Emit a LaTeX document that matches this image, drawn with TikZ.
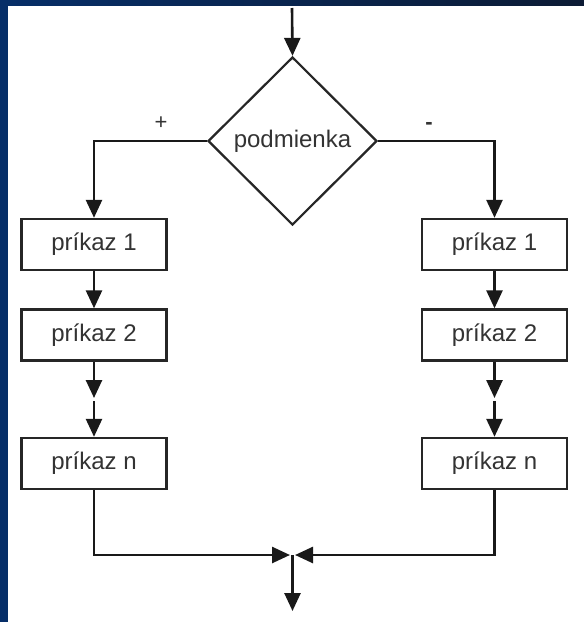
\documentclass[tikz,border=0pt]{standalone}
\usepackage{fontspec}
\setmainfont{Liberation Sans}
\usetikzlibrary{shapes.geometric}
\usetikzlibrary{arrows.meta}
\definecolor{pozadieA}{RGB}{6,46,104}
\definecolor{pozadieB}{RGB}{12,27,52}
\tikzset{
  krok/.style={draw=black!85, line width=2.4pt, fill=white, minimum width=145pt,
    minimum height=51pt, inner sep=0pt, text=black!80, font=\fontsize{24}{26}\selectfont},
  rozhod/.style={diamond, draw=black!85, line width=2.2pt, fill=white, minimum width=169pt,
    minimum height=168pt, inner sep=0pt, text=black!80, font=\fontsize{24}{26}\selectfont},
  sipka/.style={line width=2.6pt, black!90, -{Triangle[length=18pt,width=16pt]}},
  znak/.style={inner sep=0pt, text=black!80, font=\fontsize{22}{24}\selectfont}
}
\newcommand{\prikaz}[4]{\node[krok] (#1) at ( #2 , #3 ) {#4};}

\begin{document}
\begin{tikzpicture}[x=1pt,y=-1pt]
                % pozadie
                \shade[left color=pozadieA, right color=pozadieB] (0,0) rectangle (584,622);
                \fill[white] (8,6) rectangle (584,622);
                \useasboundingbox (0,0) rectangle (584,622);

                % podmienka
                \coordinate (start) at (292,8);
                \node[rozhod] (cond) at (292.5,141) {podmienka};
                \node[znak] (plus) at (161,123) {+};
                \node[znak] (minus) at (429,126) {\textbf{-}};

                % lava vetva
                \prikaz{l1}{94}{244.5}{príkaz 1}
                \prikaz{l2}{94}{335}{príkaz 2}
                \prikaz{ln}{94}{463.5}{príkaz n}
                % prava vetva
                \prikaz{r1}{494.5}{244.5}{príkaz 1}
                \prikaz{r2}{494.5}{335}{príkaz 2}
                \prikaz{rn}{494.5}{463.5}{príkaz n}

                % medzery (vynechane prikazy)
                \coordinate (lga) at (94,398);
                \coordinate (lgb) at (94,401);
                \coordinate (rga) at (494.5,398);
                \coordinate (rgb) at (494.5,401);

                % spojenie
                \coordinate (jl) at (290,555);
                \coordinate (jr) at (295,555);
                \coordinate (jm) at (292.5,555);
                \coordinate (koniec) at (292.5,611);

                \draw[sipka] (start) -- (cond.north);
                \draw[sipka] (cond.west) -| (l1.north);
                \draw[sipka] (cond.east) -| (r1.north);

                \draw[sipka] (l1) -- (l2);
                \draw[sipka] (l2) -- (lga);
                \draw[sipka] (lgb) -- (ln);
                \draw[sipka] (r1) -- (r2);
                \draw[sipka] (r2) -- (rga);
                \draw[sipka] (rgb) -- (rn);

                \draw[sipka] (ln.south) |- (jl);
                \draw[sipka] (rn.south) |- (jr);
                \draw[sipka] (jm) -- (koniec);
\end{tikzpicture}
\end{document}
